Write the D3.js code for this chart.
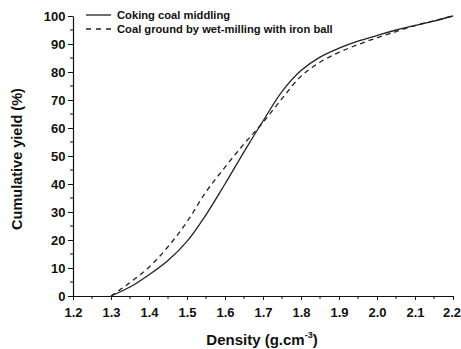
<!DOCTYPE html>
<html><head><meta charset="utf-8">
<script src="https://cdn.jsdelivr.net/npm/d3@7"></script>
<style>body{margin:0;background:#fff}svg{display:block}text{font-family:"Liberation Sans",Arial,sans-serif;font-weight:bold;fill:#111}</style>
</head><body>
<script>
const density = [1.3,1.35,1.4,1.45,1.5,1.55,1.6,1.65,1.7,1.75,1.8,1.85,1.9,1.95,2.0,2.05,2.1,2.15,2.2];
const cokingMiddling = [0,3.2,7.6,12.7,19.5,29,40,51.5,62.5,73,80.5,85.3,88.5,91,93,95,96.6,98.2,100];
const wetMilled = [0,4.8,10.3,17.6,26.5,37.2,46,54.3,62,70.5,78.5,83.5,87,89.8,92.2,94.4,96.6,98.3,100];
const seriesNames = ["Coking coal middling","Coal ground by wet-milling with iron ball"];
const xTicks = [1.2,1.3,1.4,1.5,1.6,1.7,1.8,1.9,2.0,2.1,2.2];
const yTicks = [0,10,20,30,40,50,60,70,80,90,100];

const W=461,H=349;
const svg=d3.select("body").append("svg").attr("width",W).attr("height",H);
const x=d3.scaleLinear().domain([1.2,2.2]).range([73,453]);
const y=d3.scaleLinear().domain([0,100]).range([296,16]);

const xMinor=d3.range(1.25,2.2,0.1);
const yMinor=d3.range(5,100,10);
const gx=svg.append("g").attr("transform","translate(0,296)");
gx.call(d3.axisBottom(x).tickValues(xTicks).tickFormat(d3.format(".1f")).tickSize(4).tickSizeOuter(0));
gx.selectAll(".minor").data(xMinor).enter().append("line").attr("x1",d=>x(d)).attr("x2",d=>x(d)).attr("y1",0).attr("y2",3).attr("stroke","#111");
const gy=svg.append("g").attr("transform","translate(73,0)");
gy.call(d3.axisLeft(y).tickValues(yTicks).tickSize(5).tickSizeOuter(0));
gy.selectAll(".minor").data(yMinor).enter().append("line").attr("y1",d=>y(d)).attr("y2",d=>y(d)).attr("x1",0).attr("x2",-3).attr("stroke","#111");
svg.selectAll(".domain").attr("stroke","#111").attr("stroke-width",1.2);
svg.selectAll(".tick line").attr("stroke","#111");
gx.selectAll(".tick text").attr("font-size",13).attr("dy","1.1em").attr("dx",d=>d===2.2?-1.5:0).style("font-family","'Liberation Sans',Arial,sans-serif").style("font-weight","bold");
gy.selectAll(".tick text").attr("font-size",13).attr("dx","0.5").style("font-family","'Liberation Sans',Arial,sans-serif").style("font-weight","bold");

const xt=svg.append("text").attr("x",262).attr("y",345).attr("text-anchor","middle").attr("font-size",15);
xt.append("tspan").text("Density (g.cm");
xt.append("tspan").attr("font-size",9).attr("dy",-7).text("-3");
xt.append("tspan").attr("dy",7).text(")");
svg.append("text").attr("transform","translate(22,159) rotate(-90)").attr("text-anchor","middle").attr("font-size",14.5).text("Cumulative yield (%)");

const line=d3.line().x((d,i)=>x(density[i])).y(d=>y(d)).curve(d3.curveCatmullRom.alpha(0.5));
svg.append("path").datum(cokingMiddling).attr("d",line).attr("fill","none").attr("stroke","#222").attr("stroke-width",1.3);
svg.append("path").datum(wetMilled).attr("d",line).attr("fill","none").attr("stroke","#222").attr("stroke-width",1.3).attr("stroke-dasharray","5,4");

const lg=svg.append("g");
seriesNames.forEach((n,i)=>{
  const yy=15+i*14;
  lg.append("line").attr("x1",86).attr("x2",111).attr("y1",yy).attr("y2",yy).attr("stroke","#222").attr("stroke-width",1.3).attr("stroke-dasharray",i?"5,5":null);
  lg.append("text").attr("x",117).attr("y",yy+4).attr("font-size",11.2).text(n);
});
</script>
</body></html>
